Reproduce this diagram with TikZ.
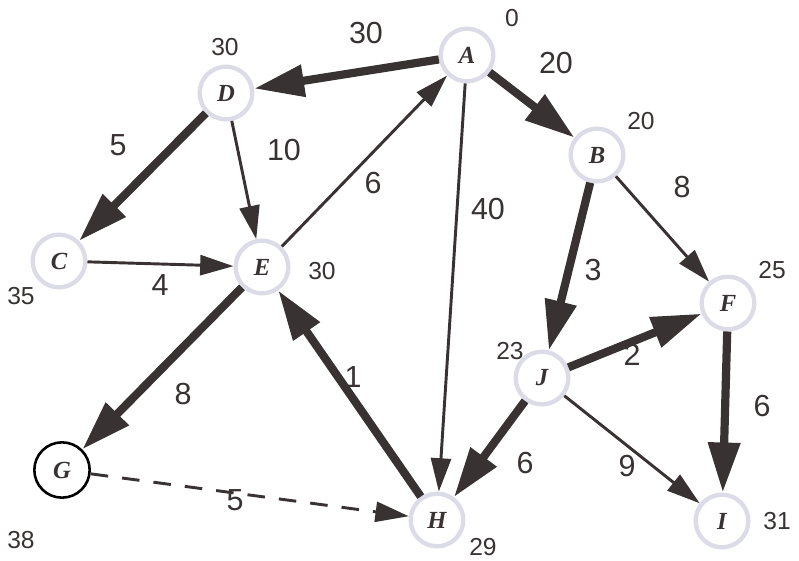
\documentclass[tikz,border=0pt]{standalone}
\usepackage{fontspec}
\setmainfont{Liberation Serif}
\setsansfont{Liberation Sans}
\usetikzlibrary{arrows.meta}
\definecolor{edgec}{HTML}{383232}
\definecolor{ringc}{HTML}{DCDCE8}
\begin{document}
\begin{tikzpicture}[x=0.03cm,y=-0.03cm,
  vert/.style={circle,draw=ringc,line width=0.13cm,fill=white,minimum size=1.58cm,inner sep=0pt,font=\fontsize{21}{21}\selectfont\itshape\bfseries,text=edgec},
  gvert/.style={circle,draw=black,line width=2.2pt,fill=white,minimum size=1.66cm,inner sep=0pt,font=\fontsize{21}{21}\selectfont\itshape\bfseries,text=edgec},
  thick edge/.style={draw=edgec,line width=7pt,-{Triangle[length=1.5cm,width=0.92cm]}},
  thin edge/.style={draw=edgec,line width=2.5pt,-{Triangle[length=1.0cm,width=0.6cm]}},
  elab/.style={font=\sffamily\fontsize{26}{26}\selectfont,text=edgec},
  dlab/.style={font=\sffamily\fontsize{21}{21}\selectfont,text=edgec}]
\useasboundingbox (0,0) rectangle (799,561);
% vertices
\node[vert] (A) at (467,55) {A};
\node[vert] (D) at (226,93) {D};
\node[vert] (B) at (597,155) {B};
\node[vert] (C) at (59,261) {C};
\node[vert] (E) at (262,267) {E};
\node[vert] (F) at (728,303) {F};
\node[vert] (J) at (542,378) {J};
\node[gvert] (G) at (62,470) {G};
\node[vert] (H) at (437,520) {H};
\node[vert] (I) at (722,521) {I};
% edges
\draw[thick edge] (A) -- (D);
\draw[thick edge] (A) -- (B);
\draw[thick edge] (D) -- (C);
\draw[thin edge] (D) -- (E);
\draw[thin edge] (E) -- (A);
\draw[thin edge] (A) -- (H);
\draw[thin edge] (B) -- (F);
\draw[thick edge] (B) -- (J);
\draw[thin edge] (C) -- (E);
\draw[thick edge] (H) -- (E);
\draw[thick edge] (J) -- (F);
\draw[thick edge] (E) -- (G);
\draw[thick edge] (J) -- (H);
\draw[thin edge] (J) -- (I);
\draw[thick edge] (F) -- (I);
\draw[thin edge,dash pattern=on 15pt off 12pt] (G) -- (H);
% edge labels
\node[elab] (l1) at (366,33) {30};
\node[elab] (l2) at (556,63) {20};
\node[elab] (l3) at (118,145) {5};
\node[elab] (l4) at (284,150) {10};
\node[elab] (l5) at (373,183) {6};
\node[elab] (l6) at (488,209) {40};
\node[elab] (l7) at (682,187) {8};
\node[elab] (l8) at (593,270) {3};
\node[elab] (l9) at (160,285) {4};
\node[elab] (l10) at (353,377) {1};
\node[elab] (l11) at (632,355) {2};
\node[elab] (l12) at (183,394) {8};
\node[elab] (l13) at (525,463) {6};
\node[elab] (l14) at (627,466) {9};
\node[elab] (l15) at (762,406) {6};
\node[elab] (l16) at (235,500) {5};
% distance labels
\node[dlab] (dA) at (512,18) {0};
\node[dlab] (dD) at (225,47) {30};
\node[dlab] (dB) at (641,121) {20};
\node[dlab] (dC) at (21,296) {35};
\node[dlab] (dE) at (322,271) {30};
\node[dlab] (dF) at (772,270) {25};
\node[dlab] (dJ) at (510,351) {23};
\node[dlab] (dG) at (21,540) {38};
\node[dlab] (dH) at (483,547) {29};
\node[dlab] (dI) at (777,521) {31};
\end{tikzpicture}
\end{document}
